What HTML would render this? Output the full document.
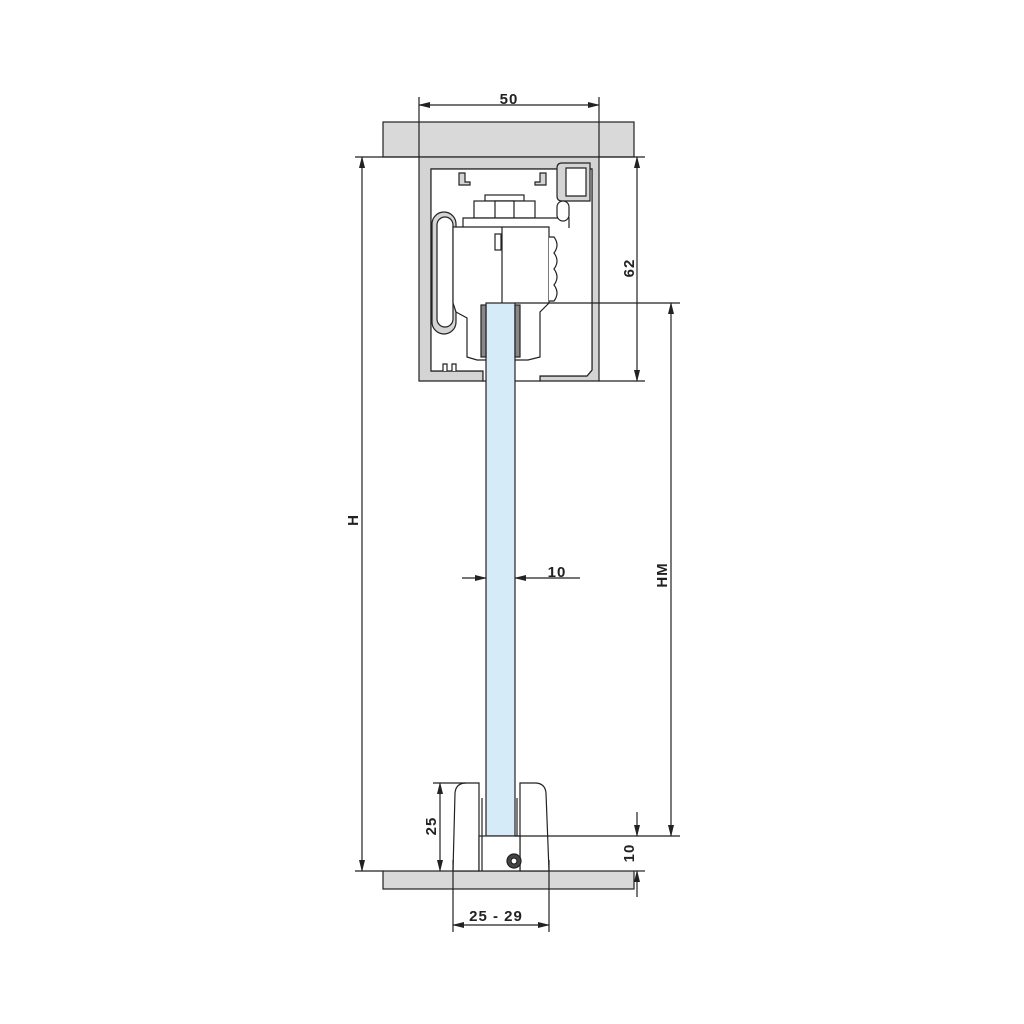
<!DOCTYPE html>
<html><head><style>html,body{margin:0;padding:0;background:#fff}svg{display:block}
text{font-family:"Liberation Sans",sans-serif;font-size:15px;font-weight:bold;fill:#222;letter-spacing:1px}</style></head>
<body>
<svg width="1024" height="1024" viewBox="0 0 1024 1024" xmlns="http://www.w3.org/2000/svg">
<defs>
<marker id="a" markerWidth="12" markerHeight="8" refX="11" refY="4" orient="auto" markerUnits="userSpaceOnUse"><path d="M0,1 L12,4 L0,7 Z" fill="#222"/></marker>
</defs>
<g stroke="#222" stroke-width="1.2" fill="none">
<!-- ceiling & floor -->
<rect x="383" y="122" width="251" height="35" fill="#d9d9d9"/>
<rect x="383" y="871" width="251" height="18" fill="#d9d9d9"/>
<!-- rail profile -->
<path d="M419,157 H599 V381 H540 V376 H587 L592,370 V169 H431 V371 H483 V381 H419 Z" fill="#d4d4d4"/>
<path d="M431,169 H592 V370 L587,376 H540 V381 H483 V371 H431 Z" fill="#fff"/>
<path d="M431,169 V371 H483" stroke="#d4d4d4" stroke-width="0"/>
<path d="M459,173 h6 v9 h5 v3 h-11 z M546,173 h-6 v9 h-5 v3 h11 z" fill="#d4d4d4"/>
<path d="M443,371 v-7 h4 v7 M452,371 v-7 h4 v7" fill="#fff"/>
<path d="M562,163 h28 v38 h-28 q-5,0 -5,-5 v-28 q0,-5 5,-5z" fill="#d4d4d4"/>
<path d="M566,168 h20 v28 h-20 z" fill="#fff"/>
<rect x="432" y="212" width="24" height="122" rx="12" fill="#d4d4d4"/>
<rect x="437" y="217" width="16" height="110" rx="8" fill="#fff"/>
<!-- carriage -->
<rect x="485" y="195" width="39" height="6" fill="#fff"/>
<rect x="474" y="201" width="61" height="17" fill="#fff"/>
<rect x="495" y="201" width="19" height="17" fill="#fff"/>
<path d="M463,228 V218 H569 V228" fill="#fff"/>
<rect x="557" y="201" width="12" height="20" rx="6" fill="#fff"/>
<path d="M453,227 H549 V303 L540,312 V357 L528,360 H477 L467,357 V318 L456,312 L453,303 Z" fill="#fff"/>
<path d="M549,237 h5 q6,8 0,16 q6,8 0,16 q6,8 0,16 q6,8 0,16 h-5" fill="#fff"/>
<rect x="495" y="234" width="6" height="16"/>
<path d="M502,227 V303" />
<!-- glass -->
<rect x="486" y="303" width="29" height="533" fill="#d6ebf8"/>
<rect x="481" y="305" width="5" height="52" fill="#888"/>
<rect x="515" y="305" width="5" height="52" fill="#888"/>
<!-- bottom guide -->
<path d="M453,871 L455,793 Q456,783 466,783 H479 V871 Z" fill="#fff"/>
<path d="M549,871 L546,793 Q545,783 535,783 H520 V871 Z" fill="#fff"/>
<rect x="479" y="836" width="41" height="35" fill="#fff"/>
<path d="M482,798 V871 M517,798 V836"/>
<circle cx="514" cy="861" r="7" fill="#444"/>
<circle cx="514" cy="861" r="3" fill="#fff"/>
<!-- dimension: 50 -->
<path d="M419,97 V157 M599,97 V157"/>
<path d="M509,105 H419" marker-end="url(#a)"/><path d="M509,105 H599" marker-end="url(#a)"/>
<!-- H -->
<path d="M355,157 H419 M355,871 H383"/>
<path d="M362,500 V157" marker-end="url(#a)"/><path d="M362,500 V871" marker-end="url(#a)"/>
<!-- 62 -->
<path d="M599,157 H645 M599,381 H645"/>
<path d="M637,260 V157" marker-end="url(#a)"/><path d="M637,260 V381" marker-end="url(#a)"/>
<!-- HM -->
<path d="M515,303 H680 M515,836 H680"/>
<path d="M671,560 V303" marker-end="url(#a)"/><path d="M671,560 V836" marker-end="url(#a)"/>
<!-- 10 glass -->
<path d="M462,578 H486" marker-end="url(#a)"/><path d="M580,578 H515" marker-end="url(#a)"/>
<!-- 25 -->
<path d="M433,783 H466"/>
<path d="M440,826 V783" marker-end="url(#a)"/><path d="M440,826 V871" marker-end="url(#a)"/>
<!-- 10 bottom -->
<path d="M634,871 H645"/>
<path d="M637,812 V836" marker-end="url(#a)"/><path d="M637,897 V871" marker-end="url(#a)"/>
<!-- 25-29 -->
<path d="M453,860 V932 M549,860 V932"/>
<path d="M500,925 H453" marker-end="url(#a)"/><path d="M500,925 H549" marker-end="url(#a)"/>
</g>
<text x="509" y="104" text-anchor="middle" font-size="14">50</text>
<text x="557" y="577" text-anchor="middle">10</text>
<text x="496" y="921" text-anchor="middle">25 - 29</text>
<text transform="translate(358,520) rotate(-90)" text-anchor="middle">H</text>
<text transform="translate(634,268) rotate(-90)" text-anchor="middle">62</text>
<text transform="translate(667,575) rotate(-90)" text-anchor="middle">HM</text>
<text transform="translate(436,826) rotate(-90)" text-anchor="middle">25</text>
<text transform="translate(634,853) rotate(-90)" text-anchor="middle">10</text>
</svg>
</body></html>
